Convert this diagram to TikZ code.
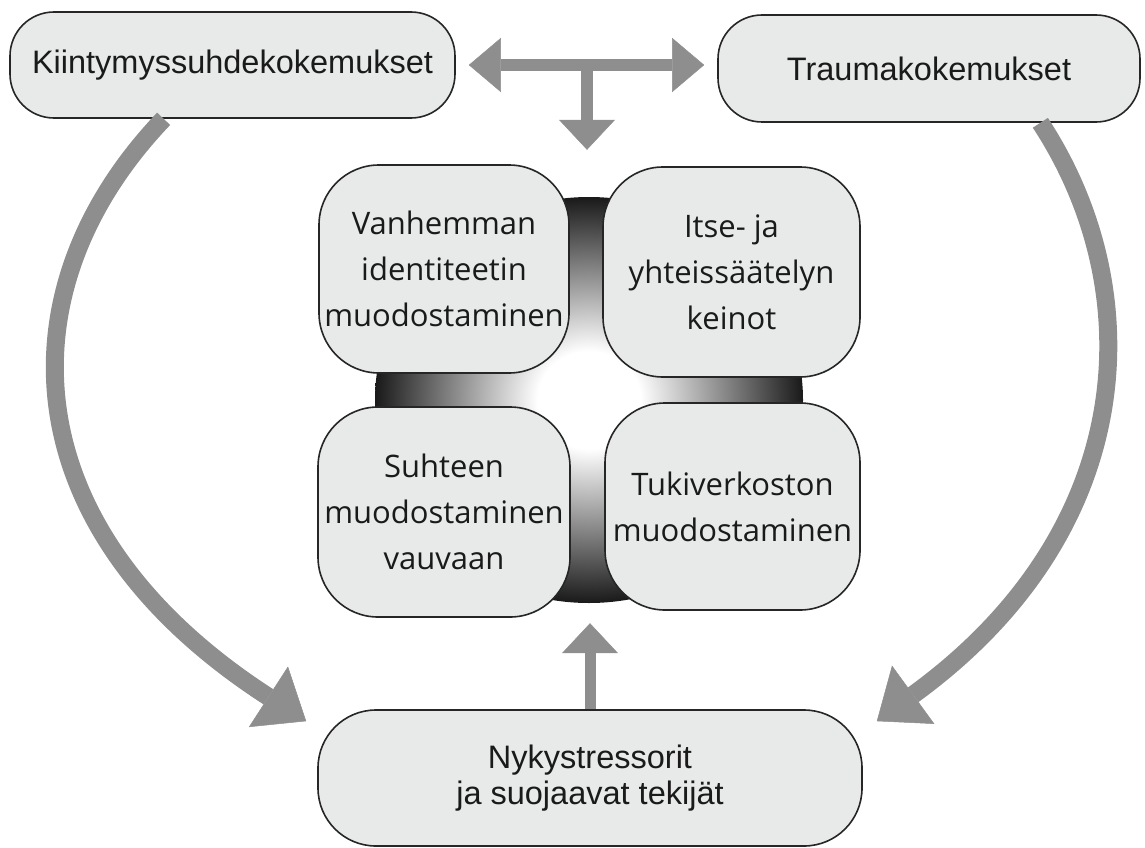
\documentclass[tikz,border=0pt]{standalone}
\usepackage{fontspec}
\setmainfont{Liberation Sans}
\newfontfamily\outerfont{Liberation Sans}
\newfontfamily\humanfont{Open Sans}
\usetikzlibrary{arrows.meta,shapes.geometric}
\definecolor{boxfill}{HTML}{E8EAEA}
\definecolor{arrowgray}{HTML}{8E8E8E}
\definecolor{inktext}{HTML}{1A1A1A}
\pgfdeclareradialshading{ringshade}{\pgfpoint{0bp}{0bp}}{color(0bp)=(white);color(6bp)=(white);color(25bp)=(black!90);color(50bp)=(black!90)}
\begin{document}
\begin{tikzpicture}[x=1pt,y=-1pt,
  box/.style={draw=black!85, line width=1.6pt, fill=boxfill, align=center, inner sep=0pt, text=inktext},
  outerbox/.style={box, rounded corners=44pt, font=\outerfont\fontsize{32.5}{36}\selectfont},
  innerbox/.style={box, rounded corners=60pt, font=\humanfont\fontsize{31}{46}\selectfont},
  grayline/.style={draw=arrowgray, line width=12pt},
  curvearrow/.style={draw=arrowgray, line width=18pt, -{Triangle[length=45pt,width=72pt,line width=0.5pt]}},
  smalltip/.style={-{Triangle[length=30pt,width=56pt,line width=0.5pt]}},
  doubletip/.style={{Triangle[length=32pt,width=54pt,line width=0.5pt]}-{Triangle[length=32pt,width=54pt,line width=0.5pt]}}
]
\useasboundingbox (0,0) rectangle (1145,848);

% top boxes
\node[outerbox, minimum width=445pt, minimum height=106pt] (kb) at (232.5,65) {Kiintymyssuhdekokemukset};
\node[outerbox, minimum width=422pt, minimum height=107pt] (tb) at (929,68.5) {Traumakokemukset};

% bottom box
\node[outerbox, rounded corners=58pt, minimum width=544pt, minimum height=136pt] (nb) at (590,778) {Nykystressorit\\ja suojaavat tekijät};

% shaded ring behind the four boxes
\node[ellipse, minimum width=428pt, minimum height=406pt, inner sep=0pt, shading=ringshade] (ring) at (589,400) {};

% four central boxes
\node[innerbox, minimum width=250pt, minimum height=208pt] (vb) at (444,269) {Vanhemman\\identiteetin\\muodostaminen};
\node[innerbox, minimum width=257pt, minimum height=210pt] (ib) at (731.5,272) {Itse- ja\\yhteissäätelyn\\keinot};
\node[innerbox, minimum width=252pt, minimum height=210pt] (sb) at (444,512) {Suhteen\\muodostaminen\\vauvaan};
\node[innerbox, minimum width=255pt, minimum height=207pt] (tk) at (732.5,506.5) {Tukiverkoston\\muodostaminen};

% curved arrows
\coordinate (ltip) at ([shift={(-11pt,-12pt)}]nb.north west);
\coordinate (rtip) at ([shift={(14pt,-12pt)}]nb.north east);
\draw[curvearrow] (kb.218) .. controls (0,290) and (10,530) .. (ltip);
\draw[curvearrow] (tb.334) .. controls (1150,290) and (1140,530) .. (rtip);

% top double arrow and stem
\coordinate (tee) at (587,65);
\draw[grayline, doubletip, shorten <=13pt, shorten >=13pt] (kb.east) -- (kb.east -| tb.west);
\draw[grayline, smalltip, shorten >=47pt] (tee) -- (tee |- ring.north);

% up arrow
\draw[draw=arrowgray, line width=11pt, smalltip, shorten >=20pt] (nb.north) -- (nb.north |- ring.south);
\end{tikzpicture}
\end{document}
